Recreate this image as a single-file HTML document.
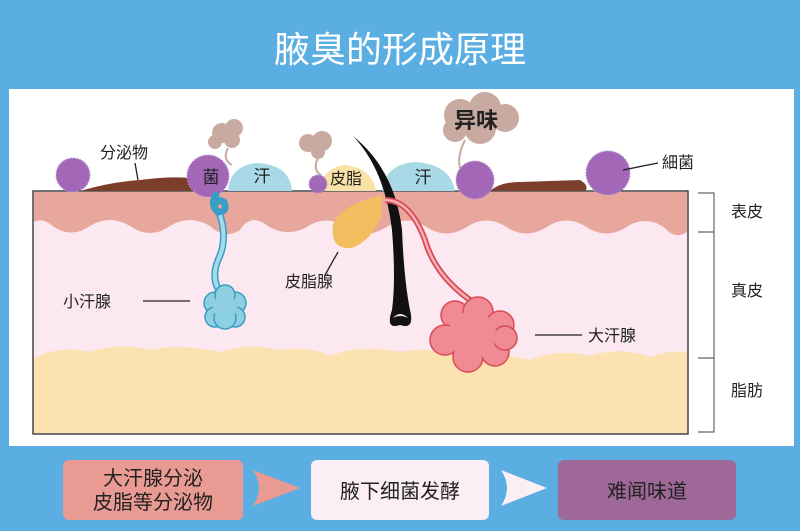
<!DOCTYPE html>
<html><head><meta charset="utf-8"><style>
body{margin:0;width:800px;height:531px;background:#5aaee2;overflow:hidden;font-family:"Liberation Sans","Noto Sans CJK SC",sans-serif}
svg{position:absolute;left:0;top:0}
</style></head><body>
<svg width="800" height="531" viewBox="0 0 800 531" font-family="Liberation Sans, Noto Sans CJK SC, sans-serif">
<rect width="800" height="531" fill="#5aaee2"/>
<text x="400" y="62" text-anchor="middle" fill="#fff" font-size="36">腋臭的形成原理</text>
<rect x="9" y="89" width="785" height="357" fill="#fff"/>
<rect x="33" y="191" width="655" height="243" fill="#fbe8f1" stroke="#333" stroke-width="1.2"/>
<path d="M34,358 Q60,345 90,352 Q120,342 150,350 Q180,343 220,352 Q250,342 280,350 Q310,346 330,356 Q360,344 400,352 Q430,346 460,356 Q490,350 530,360 Q560,348 590,356 Q620,346 650,357 Q670,350 687,352 L687,433 L34,433 Z" fill="#fbe2b0"/>
<path d="M34,192 L687,192 L687,232 Q675,240 665,228 Q645,214 625,228 Q605,240 585,226 Q565,214 545,228 Q525,240 505,226 Q485,214 465,228 Q445,240 425,226 Q405,214 385,228 Q365,240 345,226 Q325,214 305,228 Q285,238 265,224 Q250,214 240,230 Q225,240 210,226 Q190,214 170,226 Q150,240 130,226 Q110,214 90,226 Q70,240 50,224 Q42,218 34,222 Z" fill="#e8a79c"/>
<rect x="33" y="191" width="655" height="243" fill="none" stroke="#333" stroke-width="1.2"/>
<path d="M80,191 Q110,182 140,180 Q170,176 190,178 L200,191 Z" fill="#7b3e2a"/>
<path d="M490,191 Q500,182 520,182 L580,180 Q590,186 585,191 Z" fill="#7b3e2a"/>
<path d="M228,191 Q230,165 258,163 Q290,165 292,191 Z" fill="#a9d8e6"/>
<path d="M382,191 Q385,164 415,162 Q450,164 455,191 Z" fill="#a9d8e6"/>
<path d="M318,191 Q322,168 345,165 Q372,168 376,191 Z" fill="#fae2a6"/>
<g fill="#c9aaa0">
<circle cx="222" cy="133" r="10"/><circle cx="234" cy="128" r="9"/><circle cx="232" cy="140" r="8"/><circle cx="215" cy="142" r="7"/>
<circle cx="308" cy="143" r="9"/><circle cx="322" cy="141" r="10"/><circle cx="318" cy="152" r="7"/>
<circle cx="460" cy="115" r="16"/><circle cx="485" cy="108" r="16"/><circle cx="505" cy="118" r="14"/><circle cx="480" cy="128" r="16"/><circle cx="455" cy="130" r="12"/>
</g>
<path d="M228,148 Q222,160 232,165 M318,158 Q312,170 322,176 M465,140 Q455,160 462,172" stroke="#c9aaa0" stroke-width="2" fill="none"/>
<text x="476" y="128" text-anchor="middle" font-size="22" fill="#222" font-weight="bold">异味</text>
<g fill="#a367b8" stroke="#b995d0" stroke-width="1.5" stroke-dasharray="1 2">
<circle cx="73" cy="175" r="17"/><circle cx="208" cy="176" r="21"/><circle cx="318" cy="184" r="9"/><circle cx="475" cy="180" r="19"/><circle cx="608" cy="173" r="22"/>
</g>
<g fill="#a367b8"><circle cx="73" cy="175" r="14"/><circle cx="208" cy="176" r="18"/><circle cx="318" cy="184" r="8"/><circle cx="475" cy="180" r="15"/><circle cx="608" cy="173" r="19"/></g>
<text x="211" y="183" text-anchor="middle" font-size="17" fill="#222">菌</text>
<text x="262" y="182" text-anchor="middle" font-size="17" fill="#222">汗</text>
<text x="423" y="183" text-anchor="middle" font-size="17" fill="#222">汗</text>
<text x="346" y="184" text-anchor="middle" font-size="16" fill="#222">皮脂</text>
<text x="100" y="158" font-size="16" fill="#222">分泌物</text>
<line x1="135" y1="163" x2="138" y2="180" stroke="#222" stroke-width="1.3"/>
<text x="662" y="168" font-size="16" fill="#222">細菌</text>
<line x1="623" y1="170" x2="658" y2="163" stroke="#222" stroke-width="1.3"/>
<path d="M216,195 Q210,205 218,212 Q228,212 224,202 Q218,198 214,206 M220,215 Q228,240 218,260 Q210,280 222,295" stroke="#3a9ec4" stroke-width="7" fill="none" stroke-linecap="round"/>
<path d="M220,215 Q228,240 218,260 Q210,280 222,295" stroke="#a4dbea" stroke-width="4" fill="none"/>
<g fill="#8ecfe2" stroke="#3a9ec4" stroke-width="1.5"><circle cx="215" cy="303" r="11"/><circle cx="235" cy="303" r="11"/><circle cx="225" cy="295" r="10"/><circle cx="215" cy="317" r="10"/><circle cx="235" cy="317" r="10"/><circle cx="225" cy="318" r="11"/></g>
<circle cx="225" cy="307" r="12" fill="#8ecfe2"/>
<text x="63" y="307" font-size="16" fill="#222">小汗腺</text>
<line x1="143" y1="301" x2="190" y2="301" stroke="#222" stroke-width="1.3"/>
<path d="M382,195 Q340,205 333,225 Q330,250 352,248 Q372,240 382,215 Z" fill="#f1bd5e"/>
<text x="285" y="287" font-size="16" fill="#222">皮脂腺</text>
<line x1="325" y1="275" x2="338" y2="252" stroke="#222" stroke-width="1.3"/>
<path d="M353,136 Q385,170 392,230 Q396,280 392,310 Q385,330 400,325 Q415,330 410,310 Q404,280 402,230 Q395,170 353,136 Z" fill="#111"/>
<path d="M393,318 Q400,310 408,318 Q400,314 393,318" fill="#fbe8f1"/>
<path d="M385,200 Q410,200 425,240 Q435,275 470,300" stroke="#d94a55" stroke-width="6" fill="none"/>
<path d="M385,200 Q410,200 425,240 Q435,275 470,300" stroke="#f5b0b5" stroke-width="2.5" fill="none"/>
<g fill="#f08a93" stroke="#d94a55" stroke-width="1.5"><circle cx="455" cy="315" r="14"/><circle cx="478" cy="312" r="15"/><circle cx="500" cy="325" r="14"/><circle cx="445" cy="340" r="15"/><circle cx="468" cy="357" r="15"/><circle cx="495" cy="352" r="14"/><circle cx="505" cy="338" r="12"/></g>
<circle cx="472" cy="335" r="24" fill="#f08a93"/>
<text x="588" y="341" font-size="16" fill="#222">大汗腺</text>
<line x1="535" y1="335" x2="582" y2="335" stroke="#222" stroke-width="1.3"/>
<path d="M698,193 L714,193 L714,432 L698,432 M698,232 L714,232 M698,358 L714,358" stroke="#666" stroke-width="1.2" fill="none"/>
<text x="731" y="217" font-size="16" fill="#222">表皮</text>
<text x="731" y="296" font-size="16" fill="#222">真皮</text>
<text x="731" y="396" font-size="16" fill="#222">脂肪</text>
<rect x="63" y="460" width="180" height="60" rx="6" fill="#e99a93"/>
<text x="153" y="485" text-anchor="middle" font-size="20" fill="#222">大汗腺分泌</text>
<text x="153" y="509" text-anchor="middle" font-size="20" fill="#222">皮脂等分泌物</text>
<path d="M253,470 L300,488 L253,506 Q265,488 253,470 Z" fill="#e99a93"/>
<rect x="311" y="460" width="178" height="60" rx="6" fill="#fbeef5"/>
<text x="400" y="498" text-anchor="middle" font-size="20" fill="#222">腋下细菌发酵</text>
<path d="M501,470 L547,488 L501,506 Q513,488 501,470 Z" fill="#fbeef5"/>
<rect x="558" y="460" width="178" height="60" rx="6" fill="#9e6899"/>
<text x="647" y="498" text-anchor="middle" font-size="20" fill="#222">难闻味道</text>
</svg>
</body></html>
